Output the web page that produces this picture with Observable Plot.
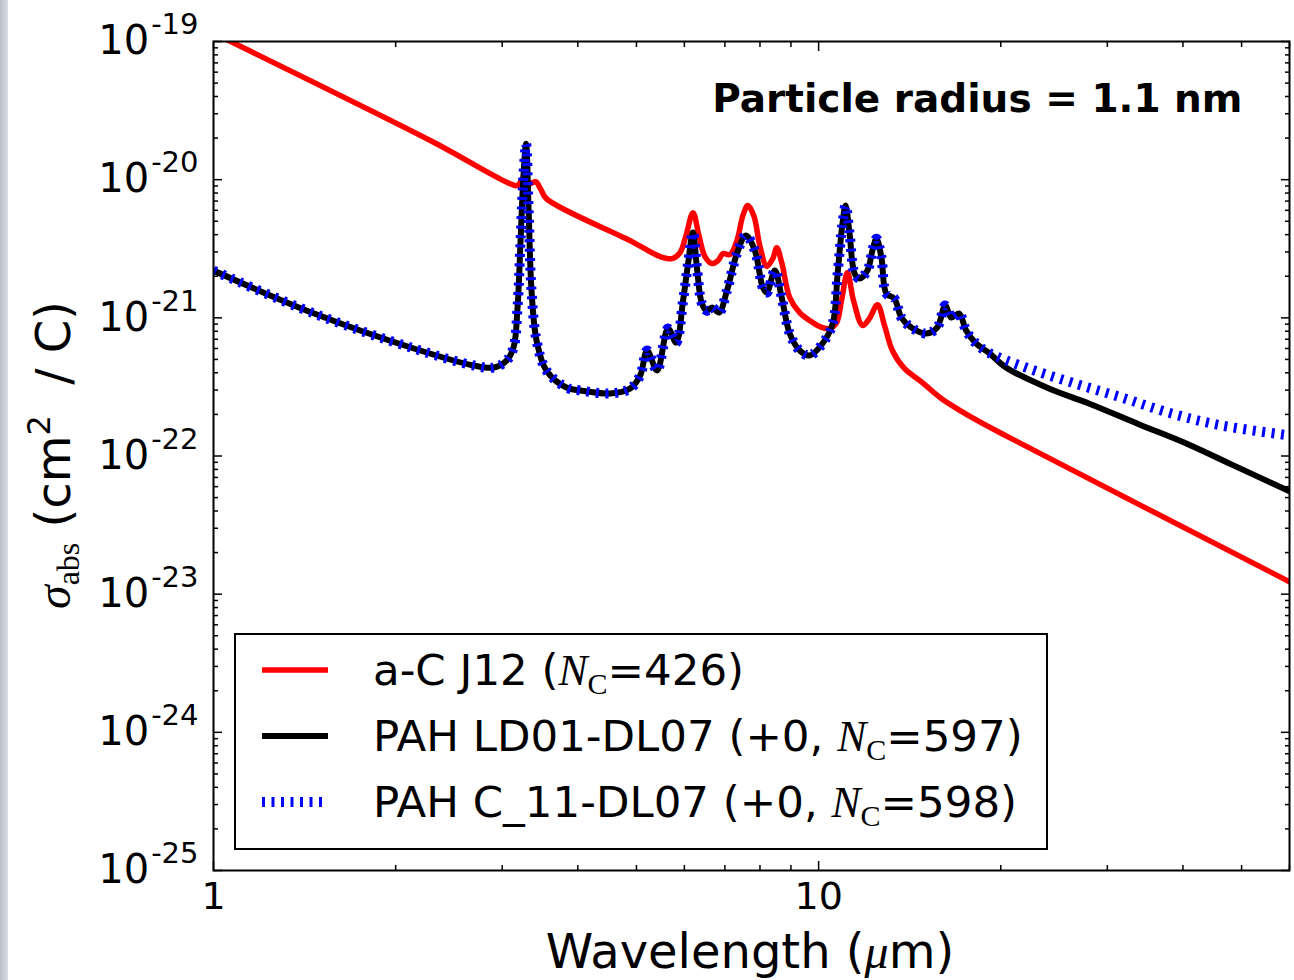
<!DOCTYPE html>
<html><head><meta charset="utf-8">
<script src="https://cdn.jsdelivr.net/npm/d3@7"></script>
<script src="https://cdn.jsdelivr.net/npm/@observablehq/plot@0.6"></script>
<style>
html,body{margin:0;padding:0;background:#fff;}
#wrap{position:relative;width:1294px;height:980px;overflow:hidden;background:#fff;}
#strip{position:absolute;left:0;top:0;width:8px;height:980px;z-index:2;background:linear-gradient(to right,#b9c0ca,#dadee4);}
</style></head>
<body><div id="wrap"><div id="chart"></div><div id="strip"></div></div>
<script>
// ---- data ----
const redWave = [1.0, 2.286, 3.157, 3.192, 3.266, 3.329, 3.406, 3.470, 3.549, 4.882, 5.472, 5.725, 5.902, 6.037, 6.199, 6.342, 6.489, 6.665, 6.819, 6.950, 7.135, 7.327, 7.496, 7.638, 7.815, 7.995, 8.210, 8.400, 8.528, 8.690, 8.959, 9.305, 9.665, 10.04, 10.42, 10.71, 10.91, 11.16, 11.42, 11.82, 12.13, 12.51, 12.85, 13.24, 13.86, 14.84, 15.95, 18.28, 20.64, 60];
const redSigma = [1.15e-19, 1.914e-20, 9.05e-21, 9.20e-21, 1.051e-20, 9.36e-21, 9.67e-21, 8.61e-21, 7.29e-21, 3.62e-21, 2.775e-21, 2.685e-21, 2.97e-21, 3.94e-21, 5.77e-21, 3.94e-21, 2.775e-21, 2.47e-21, 2.596e-21, 2.917e-21, 2.87e-21, 3.62e-21, 5.49e-21, 6.49e-21, 5.49e-21, 3.33e-21, 2.357e-21, 2.685e-21, 3.22e-21, 2.51e-21, 1.402e-21, 1.092e-21, 9.56e-22, 8.65e-22, 8.37e-22, 9.25e-22, 1.334e-21, 2.126e-21, 1.334e-21, 8.80e-22, 9.88e-22, 1.246e-21, 8.80e-22, 5.80e-22, 4.30e-22, 3.40e-22, 2.61e-22, 1.808e-22, 1.363e-22, 1.23e-23];

// PAH: common part (both PAH models coincide up to ~19 um)
const pahWave = [1.0, 1.467, 2.143, 2.692, 2.904, 3.050, 3.132, 3.180, 3.217, 3.254, 3.285, 3.316, 3.354, 3.419, 3.549, 3.830, 4.040, 4.526, 4.882, 5.072, 5.207, 5.408, 5.639, 5.814, 5.970, 6.085, 6.199, 6.295, 6.416, 6.539, 6.665, 6.845, 7.056, 7.327, 7.582, 7.845, 8.087, 8.210, 8.466, 8.690, 8.959, 9.305, 9.665, 10.15, 10.55, 10.75, 10.95, 11.08, 11.25, 11.47, 11.68, 12.04, 12.27, 12.46, 12.70, 12.94, 13.34, 13.70, 14.23, 15.07, 15.70, 16.19, 16.56, 17.07, 17.53, 18.21, 19.12];
const pahSigma = [2.198e-21, 1.074e-21, 6.0e-22, 4.52e-22, 4.37e-22, 4.91e-22, 6.10e-22, 1.187e-21, 3.62e-21, 1.105e-20, 1.82e-20, 6.27e-21, 1.576e-21, 6.85e-22, 4.16e-22, 3.13e-22, 2.98e-22, 2.835e-22, 3.08e-22, 3.83e-22, 5.80e-22, 4.16e-22, 8.37e-22, 6.63e-22, 1.334e-21, 2.47e-21, 4.14e-21, 2.28e-21, 1.264e-21, 1.125e-21, 1.187e-21, 1.092e-21, 1.576e-21, 2.917e-21, 3.94e-21, 3.07e-21, 1.656e-21, 1.524e-21, 2.198e-21, 1.402e-21, 7.70e-22, 5.80e-22, 5.34e-22, 6.52e-22, 9.10e-22, 2.09e-21, 4.81e-21, 6.49e-21, 4.07e-21, 2.09e-21, 1.924e-21, 2.198e-21, 3.07e-21, 3.74e-21, 2.73e-21, 1.499e-21, 1.379e-21, 1.005e-21, 8.51e-22, 7.70e-22, 8.51e-22, 1.227e-21, 1.005e-21, 1.074e-21, 8.09e-22, 6.52e-22, 5.58e-22];
// long-wavelength tails
const ld01TailWave = [20.40, 24.02, 27.96, 33.80, 40.86, 48.08, 60];
const ld01TailSigma = [4.37e-22, 3.08e-22, 2.40e-22, 1.70e-22, 1.213e-22, 8.70e-23, 5.55e-23];
const c11TailWave = [22.01, 26.21, 31.68, 38.31, 46.29, 60];
const c11TailSigma = [4.37e-22, 3.40e-22, 2.65e-22, 2.03e-22, 1.664e-22, 1.41e-22];

const seriesPrefix = ["a-C J12 (", "PAH LD01-DL07 (+0, ", "PAH C_11-DL07 (+0, "];
const seriesNC = [426, 597, 598];
const annotation = "Particle radius = 1.1 nm";

const xMajor = [1, 10];
const xMinor = [2, 3, 4, 5, 6, 7, 8, 9, 20, 30, 40, 50, 60];
const yMajor = [1e-25, 1e-24, 1e-23, 1e-22, 1e-21, 1e-20, 1e-19];
const yMinorMult = [2, 3, 4, 5, 6, 7, 8, 9];

// ---- build tables ----
const zip = (w, s) => w.map((x, i) => ({x, y: s[i]}));
const red = zip(redWave, redSigma);
const ld01 = zip(pahWave.concat(ld01TailWave), pahSigma.concat(ld01TailSigma));
const c11 = zip(pahWave.concat(c11TailWave), pahSigma.concat(c11TailSigma));
const yMinor = [];
yMajor.slice(0, -1).forEach(p => yMinorMult.forEach(m => yMinor.push(m * p)));

const styles = [
  {stroke: "#ff0000", strokeWidth: 5.5, dash: null},
  {stroke: "#000000", strokeWidth: 6, dash: null},
  {stroke: "#0000ff", strokeWidth: 10, dash: "3,6.5"}
];

const expFmt = d => "10^" + Math.round(Math.log10(d));

const chart = Plot.plot({
  width: 1294, height: 980,
  marginLeft: 213, marginRight: 5, marginTop: 41, marginBottom: 110,
  style: {fontFamily: "DejaVu Sans", color: "black", background: "white"},
  x: {type: "log", domain: [1, 60]},
  y: {type: "log", domain: [1e-25, 1e-19]},
  marks: [
    Plot.line(red, {x: "x", y: "y", stroke: styles[0].stroke, strokeWidth: styles[0].strokeWidth, curve: "catmull-rom", clip: true, strokeLinejoin: "round"}),
    Plot.line(ld01, {x: "x", y: "y", stroke: styles[1].stroke, strokeWidth: styles[1].strokeWidth, curve: "catmull-rom", clip: true, strokeLinejoin: "round"}),
    Plot.line(c11, {x: "x", y: "y", stroke: styles[2].stroke, strokeWidth: styles[2].strokeWidth, strokeDasharray: styles[2].dash, strokeLinecap: "butt", curve: "catmull-rom", clip: true}),
    // tick labels
    Plot.axisX({ticks: xMajor, anchor: "bottom", tickSize: 0, tickPadding: 12, fontSize: 38, tickFormat: d => String(d), label: null}),
    Plot.axisY({ticks: yMajor, anchor: "left", tickSize: 0, tickPadding: 15, fontSize: 40, tickFormat: expFmt, label: null}),
    // inward ticks on all four sides
    Plot.axisX({ticks: xMajor, anchor: "bottom", tickSize: -9, fill: "none", strokeWidth: 1.5, label: null}),
    Plot.axisX({ticks: xMinor, anchor: "bottom", tickSize: -5, fill: "none", strokeWidth: 1.5, label: null}),
    Plot.axisX({ticks: xMajor, anchor: "top", tickSize: -9, fill: "none", strokeWidth: 1.5, label: null}),
    Plot.axisX({ticks: xMinor, anchor: "top", tickSize: -5, fill: "none", strokeWidth: 1.5, label: null}),
    Plot.axisY({ticks: yMajor, anchor: "left", tickSize: -9, fill: "none", strokeWidth: 1.5, label: null}),
    Plot.axisY({ticks: yMinor, anchor: "left", tickSize: -5, fill: "none", strokeWidth: 1.5, label: null}),
    Plot.axisY({ticks: yMajor, anchor: "right", tickSize: -9, fill: "none", strokeWidth: 1.5, label: null}),
    Plot.axisY({ticks: yMinor, anchor: "right", tickSize: -5, fill: "none", strokeWidth: 1.5, label: null}),
    Plot.frame({stroke: "black", strokeWidth: 2}),
    Plot.text([annotation], {text: d => d, frameAnchor: "top-right", textAnchor: "end", lineAnchor: "middle", dx: -47, dy: 58, fontSize: 39, fontWeight: "bold"})
  ]
});
document.getElementById("chart").appendChild(chart);

const svg = d3.select(chart);
// superscript exponents on y tick labels
svg.selectAll('g[aria-label^="y-axis tick label"] text').each(function () {
  const parts = this.textContent.split("^");
  const t = d3.select(this);
  t.text(null);
  t.append("tspan").text(parts[0]);
  t.append("tspan").attr("dx", 2).attr("dy", -20).attr("font-size", 29).text(parts[1]);
});

// x axis title
const xt = svg.append("text").attr("x", 750).attr("y", 968).attr("text-anchor", "middle")
  .attr("font-size", 48).attr("font-family", "DejaVu Sans").attr("fill", "black");
xt.append("tspan").text("Wavelength (");
xt.append("tspan").attr("font-family", "Liberation Serif").attr("font-style", "italic").text("μ");
xt.append("tspan").text("m)");

// y axis title
const yt = svg.append("text").attr("transform", "translate(70,455) rotate(-90)").attr("text-anchor", "middle")
  .attr("font-size", 48).attr("font-family", "DejaVu Sans").attr("fill", "black").style("white-space", "pre");
yt.append("tspan").attr("font-family", "Liberation Serif").attr("font-style", "italic").text("σ");
yt.append("tspan").attr("font-family", "Liberation Serif").attr("font-size", 32).attr("dy", 9).text("abs");
yt.append("tspan").attr("dy", -9).text(" (cm");
yt.append("tspan").attr("font-size", 32).attr("dy", -20).text("2");
yt.append("tspan").attr("dy", 20).text("  / C)");

// legend
const lg = svg.append("g").attr("text-anchor", "start");
lg.append("rect").attr("x", 235).attr("y", 634).attr("width", 812).attr("height", 215)
  .attr("fill", "white").attr("stroke", "black").attr("stroke-width", 2);
seriesPrefix.forEach((p, i) => {
  const yb = 685 + i * 66;
  const s = styles[i];
  lg.append("line").attr("x1", 262).attr("x2", 328).attr("y1", yb - 15).attr("y2", yb - 15)
    .attr("stroke", s.stroke).attr("stroke-width", s.strokeWidth).attr("stroke-dasharray", s.dash);
  const t = lg.append("text").attr("x", 373).attr("y", yb).attr("font-size", 43.5).attr("text-anchor", "start")
    .attr("font-family", "DejaVu Sans").attr("fill", "black").style("white-space", "pre");
  t.append("tspan").text(p);
  t.append("tspan").attr("font-family", "Liberation Serif").attr("font-style", "italic").text("N");
  t.append("tspan").attr("font-family", "Liberation Serif").attr("font-size", 30).attr("dy", 9).text("C");
  t.append("tspan").attr("dy", -9).text("=" + seriesNC[i] + ")");
});
</script></body></html>
